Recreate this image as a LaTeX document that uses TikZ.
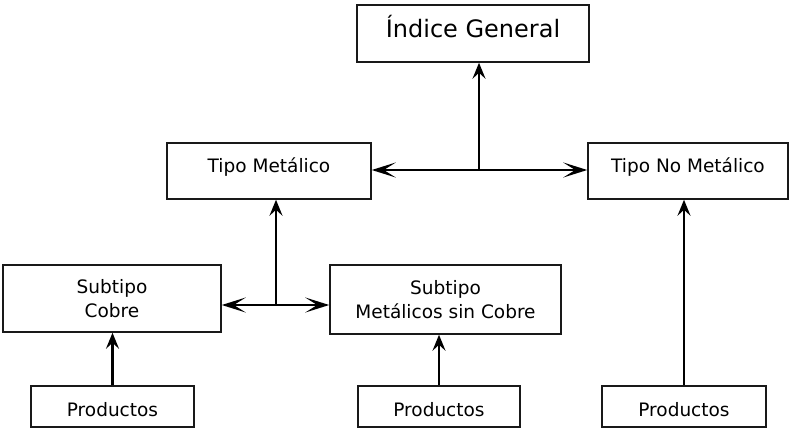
\documentclass[tikz,border=0pt]{standalone}
\usepackage{fontspec}
\setmainfont{DejaVu Sans}
\usetikzlibrary{arrows.meta}
\tikzset{
  boxnode/.style={draw=black!90, line width=1.5pt, rectangle, inner sep=0pt, align=center,
    font=\fontsize{18.5}{24}\selectfont},
  conn/.style={line width=2.8pt, draw=black},
  varrow/.style={conn, -{Stealth[length=16pt,width=13pt,inset=6pt]}},
  harrow/.style={conn, -{Stealth[length=24pt,width=15pt,inset=12pt]}},
}
\begin{document}
\begin{tikzpicture}[x=1pt,y=1pt]
\useasboundingbox (0,0) rectangle (793,-429);
% nodes
\node[boxnode, minimum width=232pt, minimum height=57pt, font=\fontsize{24}{28}\selectfont,
  text height=18pt, text depth=10pt] (idx) at (473,-33.5) {Índice General};
\node[boxnode, minimum width=204pt, minimum height=56pt, text height=14pt, text depth=12pt]
  (tm) at (269,-171) {Tipo Metálico};
\node[boxnode, minimum width=200pt, minimum height=56pt, text height=14pt, text depth=12pt]
  (tnm) at (688,-171) {Tipo No Metálico};
\node[boxnode, minimum width=218pt, minimum height=67pt] (sc) at (112,-298.5) {Subtipo\\Cobre};
\node[boxnode, minimum width=231pt, minimum height=69pt] (sm) at (445.5,-299.5) {Subtipo\\Metálicos sin Cobre};
\node[boxnode, minimum width=163pt, minimum height=41pt, text height=19pt, text depth=0pt]
  (p1) at (112.5,-406.5) {Productos};
\node[boxnode, minimum width=162pt, minimum height=41pt, text height=19pt, text depth=0pt]
  (p2) at (439,-406.5) {Productos};
\node[boxnode, minimum width=164pt, minimum height=41pt, text height=19pt, text depth=0pt]
  (p3) at (684,-406.5) {Productos};
% junctions
\coordinate (j1) at (479,-170);
\coordinate (j2) at (276,-305);
% connectors
\draw[varrow] (j1) -- (j1 |- idx.south);
\draw[harrow] (j1) -- (tm.east |- j1);
\draw[harrow] (j1) -- (tnm.west |- j1);
\draw[varrow] (j2) -- (j2 |- tm.south);
\draw[harrow] (j2) -- (sc.east |- j2);
\draw[harrow] (j2) -- (sm.west |- j2);
\draw[varrow] (p1.north) -- (p1.north |- sc.south);
\draw[varrow] (p2.north) -- (p2.north |- sm.south);
\draw[varrow] (p3.north) -- (p3.north |- tnm.south);
\end{tikzpicture}
\end{document}
